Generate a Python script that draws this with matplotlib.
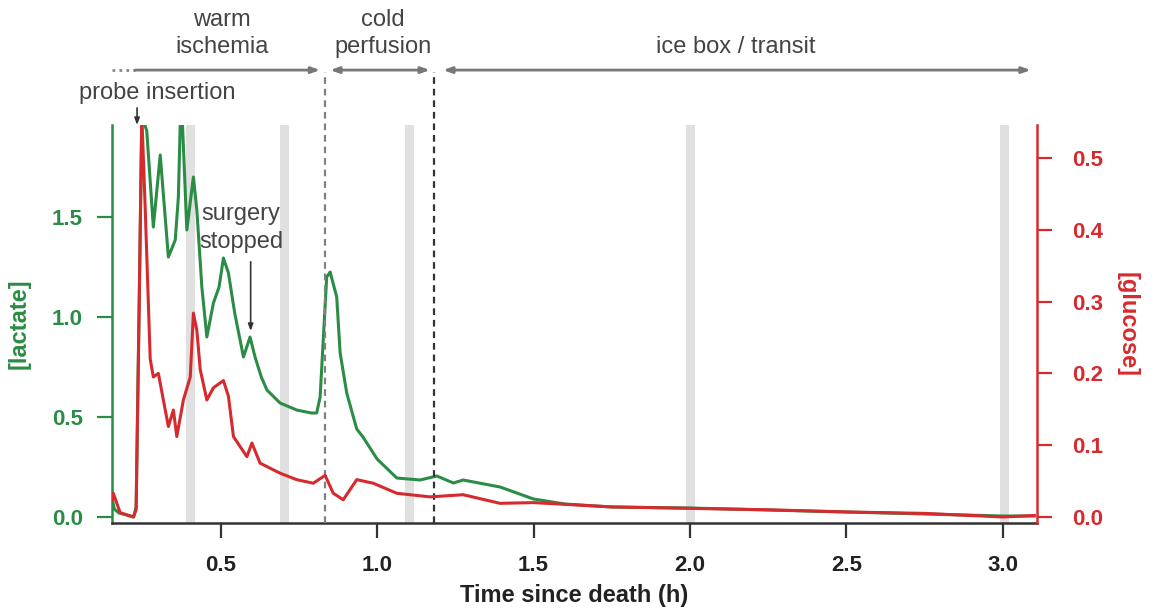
import numpy as np
import matplotlib
matplotlib.use("Agg")
import matplotlib.pyplot as plt

plt.rcParams['font.family'] = ['Liberation Sans', 'DejaVu Sans']

# --- data ---
# time since death (h) / lactate
t_lac = [0.153, 0.16, 0.175, 0.20, 0.222, 0.230, 0.240, 0.248, 0.256, 0.264,
         0.285, 0.307, 0.333, 0.355, 0.365, 0.371, 0.378, 0.392, 0.413, 0.424,
         0.440, 0.456, 0.477, 0.495, 0.509, 0.525, 0.545, 0.573, 0.594, 0.610,
         0.630, 0.648, 0.690, 0.743, 0.790, 0.807, 0.818, 0.839, 0.850, 0.871,
         0.882, 0.903, 0.935, 0.955, 1.000, 1.063, 1.137, 1.191, 1.244, 1.275,
         1.393, 1.50, 1.60, 1.75, 2.00, 2.25, 2.50, 2.75, 3.00, 3.10]
lactate = [0.10, 0.04, 0.02, 0.01, 0.00, 0.05, 1.10, 1.97, 1.97, 1.93,
           1.45, 1.81, 1.30, 1.385, 1.60, 1.97, 1.97, 1.435, 1.70, 1.535,
           1.15, 0.90, 1.07, 1.15, 1.295, 1.22, 1.02, 0.80, 0.90, 0.80,
           0.70, 0.635, 0.57, 0.535, 0.52, 0.52, 0.60, 1.20, 1.225, 1.10,
           0.82, 0.62, 0.44, 0.40, 0.29, 0.195, 0.185, 0.205, 0.17, 0.185,
           0.15, 0.09, 0.065, 0.05, 0.045, 0.035, 0.025, 0.015, 0.005, 0.005]

# time since death (h) / glucose
t_glu = [0.152, 0.157, 0.179, 0.221, 0.230, 0.240, 0.248, 0.259, 0.275, 0.285,
         0.301, 0.333, 0.349, 0.360, 0.381, 0.403, 0.413, 0.424, 0.435, 0.456,
         0.477, 0.509, 0.525, 0.541, 0.584, 0.600, 0.626, 0.690, 0.743, 0.796,
         0.834, 0.860, 0.892, 0.935, 0.988, 1.063, 1.169, 1.275, 1.393, 1.50,
         1.75, 2.00, 2.25, 2.50, 2.75, 2.90, 3.00, 3.10]
glucose = [0.024, 0.033, 0.006, 0.0, 0.01, 0.30, 0.56, 0.43, 0.22, 0.195,
           0.20, 0.126, 0.149, 0.112, 0.163, 0.195, 0.284, 0.26, 0.205, 0.163,
           0.18, 0.19, 0.168, 0.112, 0.084, 0.103, 0.075, 0.061, 0.052, 0.047,
           0.058, 0.033, 0.024, 0.052, 0.047, 0.033, 0.028, 0.031, 0.019, 0.02,
           0.014, 0.012, 0.01, 0.007, 0.005, 0.002, 0.0, 0.002]

grey_bands = [0.390, 0.690, 1.089, 1.987, 2.990]   # sample gaps (start)
band_w = 0.028
phase_lines = [0.834, 1.182]

x_ticks = [0.5, 1.0, 1.5, 2.0, 2.5, 3.0]
lac_ticks = [0.0, 0.5, 1.0, 1.5]
glu_ticks = [0.0, 0.1, 0.2, 0.3, 0.4, 0.5]

green = '#2b8c45'
red = '#d62a2e'
txt = '#444444'

fig = plt.figure(figsize=(11.61, 6.14), dpi=100)
ax = fig.add_axes([0.0965, 0.1482, 0.7967, 0.6482])
ax2 = ax.twinx()

for b in grey_bands:
    ax.axvspan(b, b + band_w, color='#e0e0e0', lw=0, zorder=0)

ax.plot(t_lac, lactate, color=green, lw=2.2, zorder=2)
ax2.plot(t_glu, glucose, color=red, lw=2.2, zorder=2)

ax.set_xlim(0.153, 3.109)
ax.set_ylim(-0.03, 1.96)
ax2.set_ylim(-0.0084, 0.546)

# dashed phase boundaries, running up to the arrow row
ax.axvline(phase_lines[0], ymin=0, ymax=1.133, color='#808080', lw=1.6,
           ls=(0, (3, 2.2)), clip_on=False, zorder=3)
ax.axvline(phase_lines[1], ymin=0, ymax=1.133, color='#333333', lw=1.6,
           ls=(0, (3, 2.2)), clip_on=False, zorder=3)

# spines
for s in ['top', 'right']:
    ax.spines[s].set_visible(False)
for s in ['top', 'left', 'bottom']:
    ax2.spines[s].set_visible(False)
ax.spines['left'].set_color(green)
ax.spines['left'].set_linewidth(1.8)
ax.spines['bottom'].set_color('#333333')
ax.spines['bottom'].set_linewidth(1.8)
ax2.spines['right'].set_color(red)
ax2.spines['right'].set_linewidth(1.8)

ax.set_xticks(x_ticks)
ax.set_xticklabels([f'{v:.1f}' for v in x_ticks])
ax.set_yticks(lac_ticks)
ax.set_yticklabels([f'{v:.1f}' for v in lac_ticks])
ax2.set_yticks(glu_ticks)
ax2.set_yticklabels([f'{v:.1f}' for v in glu_ticks])

ax.tick_params(axis='x', length=11, width=1.6, color='#333333', pad=12,
               labelsize=16, labelcolor='#222222')
ax.tick_params(axis='y', length=11, width=1.6, color=green, pad=10,
               labelsize=16, labelcolor=green)
ax2.tick_params(axis='y', length=11, width=1.6, color=red, pad=14,
                labelsize=16, labelcolor=red)
for lab in ax.get_xticklabels() + ax.get_yticklabels() + ax2.get_yticklabels():
    lab.set_fontweight('bold')

ax.set_xlabel('Time since death (h)', fontsize=17, fontweight='bold',
              color='#222222', labelpad=6)
ax.set_ylabel('[lactate]', fontsize=17, fontweight='bold', color=green,
              labelpad=15)
ax2.set_ylabel('[glucose]', fontsize=17, fontweight='bold', color=red,
               rotation=270, labelpad=26)

# phase arrows above the plot
trans = ax.get_xaxis_transform()
ay = 1.138
arr = dict(color='#777777', lw=2, shrinkA=0, shrinkB=0)
ax.annotate('', xy=(0.818, ay), xytext=(0.227, ay), xycoords=trans,
            arrowprops=dict(arrowstyle='-|>,head_length=0.5,head_width=0.18', **arr))
ax.plot([0.153, 0.227], [ay, ay], transform=trans, color='#888888', lw=2,
        ls=(0, (1, 1.5)), clip_on=False)
ax.annotate('', xy=(1.169, ay), xytext=(0.850, ay), xycoords=trans,
            arrowprops=dict(arrowstyle='<|-|>,head_length=0.5,head_width=0.18', **arr))
ax.annotate('', xy=(3.089, ay), xytext=(1.211, ay), xycoords=trans,
            arrowprops=dict(arrowstyle='<|-|>,head_length=0.5,head_width=0.18', **arr))

# two-line phase labels, lines centred near y=20px and y=46px
ax.text(0.505, 1.231, 'warm\nischemia', transform=trans, ha='center',
        va='center', fontsize=17, color=txt, linespacing=1.3)
ax.text(1.019, 1.231, 'cold\nperfusion', transform=trans, ha='center',
        va='center', fontsize=17, color=txt, linespacing=1.3)
ax.text(2.147, 1.196, 'ice box / transit', transform=trans, ha='center',
        va='center', fontsize=17, color=txt)

# event annotations
ax.text(0.296, 1.080, 'probe insertion', transform=trans, ha='center',
        va='center', fontsize=17, color=txt)
ax.annotate('', xy=(0.233, 1.0), xytext=(0.233, 1.043), xycoords=trans,
            arrowprops=dict(arrowstyle='-|>,head_length=0.4,head_width=0.15',
                            color='#333333', lw=1.2, shrinkA=0, shrinkB=0))
ax.text(0.566, 1.445, 'surgery\nstopped', ha='center', va='center',
        fontsize=17, color=txt, linespacing=1.3)
ax.annotate('', xy=(0.596, 0.93), xytext=(0.596, 1.276),
            arrowprops=dict(arrowstyle='-|>,head_length=0.4,head_width=0.15',
                            color='#333333', lw=1.2, shrinkA=0, shrinkB=0))

fig.savefig('out.png', dpi=100)
